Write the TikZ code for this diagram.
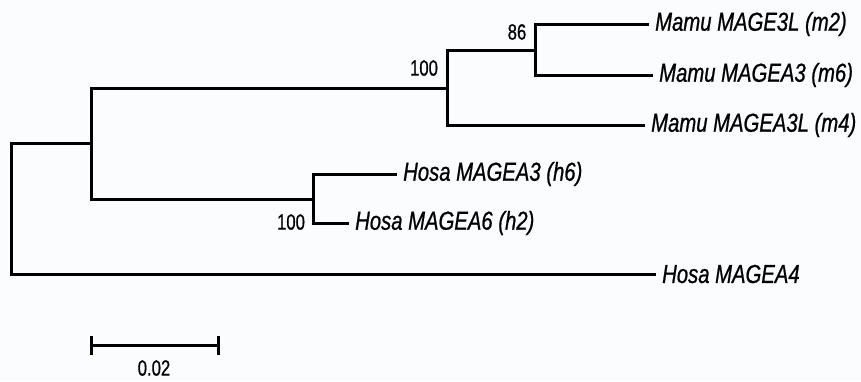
\documentclass[tikz,border=0pt]{standalone}
\usepackage{fontspec}
\setmainfont{Liberation Sans}
\newfontfamily\leaffont[FakeStretch=0.78,FakeBold=0.8]{Liberation Sans}
\newfontfamily\numfont[FakeStretch=0.76,FakeBold=0.6]{Liberation Sans}
\definecolor{bg}{HTML}{FBFCFE}
\begin{document}
\begin{tikzpicture}[x=1pt,y=-1pt,
  branch/.style={line width=3pt,line cap=rect,black},
  leaf/.style={anchor=west,inner xsep=8pt,inner ysep=0pt,font=\leaffont\itshape\fontsize{26}{28}\selectfont},
  boot/.style={inner sep=0pt,font=\numfont\fontsize{22}{24}\selectfont}]
\fill[bg] (0,0) rectangle (861,381);
\useasboundingbox (0,0) rectangle (861,381);
% internal nodes
\coordinate (root) at (11,208);
\coordinate (A) at (91,143);
\coordinate (B) at (447,88);
\coordinate (C) at (535,50);
\coordinate (D) at (313,199);
% leaves
\node[leaf] (m2) at (647,24) {Mamu MAGE3L (m2)};
\node[leaf] (m6) at (651,75) {Mamu MAGEA3 (m6)};
\node[leaf] (m4) at (643,125) {Mamu MAGEA3L (m4)};
\node[leaf] (h6) at (395,174) {Hosa MAGEA3 (h6)};
\node[leaf] (h2) at (347,223) {Hosa MAGEA6 (h2)};
\node[leaf] (a4) at (654,274) {Hosa MAGEA4};
% branches
\draw[branch] (root) |- (A);
\draw[branch] (root) |- (a4.west);
\draw[branch] (A) |- (B);
\draw[branch] (A) |- (D);
\draw[branch] (B) |- (C);
\draw[branch] (B) |- (m4.west);
\draw[branch] (C) |- (m2.west);
\draw[branch] (C) |- (m6.west);
\draw[branch] (D) |- (h6.west);
\draw[branch] (D) |- (h2.west);
% bootstrap values
\node[boot] (bB) at (424,68) {100};
\node[boot] (bC) at (517,32) {86};
\node[boot] (bD) at (291,222) {100};
% scale bar
\coordinate (s1) at (91,345);
\coordinate (s2) at (218,345);
\draw[branch,line cap=butt] (s1) -- (s2);
\draw[line width=3pt] ([yshift=-9.5pt]s1) -- ([yshift=9.5pt]s1);
\draw[line width=3pt] ([yshift=-9.5pt]s2) -- ([yshift=9.5pt]s2);
\node[boot] (sl) at (154,368) {0.02};
\end{tikzpicture}
\end{document}
